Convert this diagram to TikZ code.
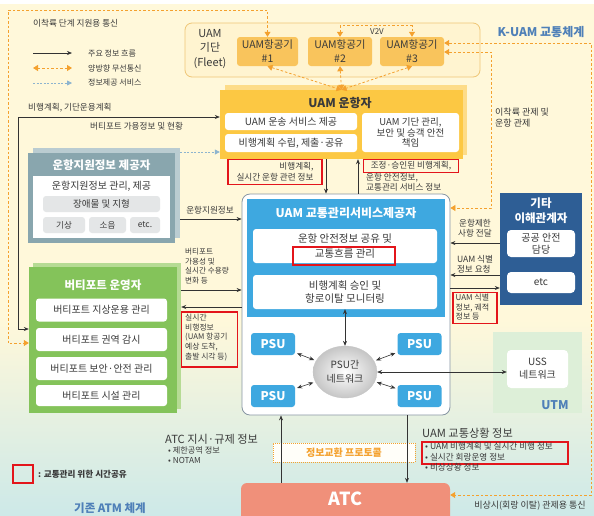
\documentclass[tikz,border=0pt]{standalone}
\usepackage{fontspec}
\setmainfont{Noto Sans CJK KR}
\usetikzlibrary{arrows.meta,shapes.geometric,calc}
\definecolor{bgc}{HTML}{FFF8DA}
\definecolor{bgb}{HTML}{CDE9E8}
\definecolor{orc}{HTML}{F4A12E}
\definecolor{fleetb}{HTML}{EFC676}
\definecolor{fleetf}{HTML}{FFF4D0}
\definecolor{fleetc}{HTML}{F9C45C}
\definecolor{opc}{HTML}{FCC843}
\definecolor{opsh}{HTML}{FDDC88}
\definecolor{provc}{HTML}{89A6AE}
\definecolor{provsh}{HTML}{BACCD1}
\definecolor{grayb}{HTML}{E4E6E7}
\definecolor{vertc}{HTML}{84C35A}
\definecolor{vertsh}{HTML}{B6DB94}
\definecolor{bluec}{HTML}{3EA8E0}
\definecolor{navyc}{HTML}{2E5E95}
\definecolor{utmc}{HTML}{DDEFD8}
\definecolor{atcc}{HTML}{F0907A}
\definecolor{redc}{HTML}{E3151B}
\definecolor{txt}{HTML}{3A3A3A}
\definecolor{kuam}{HTML}{4F80B8}
\definecolor{lblue}{HTML}{8DB4CF}
\definecolor{tmb}{HTML}{8796A3}
\newcommand\myfs[2]{\fontsize{#1}{#2}\selectfont}
\begin{document}
\begin{tikzpicture}[x=1pt,y=-1pt,
  every node/.style={inner sep=0pt, text=txt, align=center},
  blk/.style={draw=black!80, line width=0.6pt, -{Stealth[length=5pt,width=4pt]}},
  blkb/.style={draw=black!80, line width=0.6pt, {Stealth[length=5pt,width=4pt]}-{Stealth[length=5pt,width=4pt]}},
  orng/.style={draw=orc, line width=0.8pt, dash pattern=on 2.5pt off 2pt, {Triangle[length=5pt,width=6pt]}-{Triangle[length=5pt,width=6pt]}},
  bdash/.style={draw=lblue, line width=0.8pt, dash pattern=on 2pt off 1.5pt, -{Triangle[length=5pt,width=5pt]}},
  lbl/.style={font=\myfs{8.6}{10}, align=left},
  redbox/.style={draw=redc, line width=1.8pt},
  wbox/.style={fill=white, rounded corners=3pt, font=\myfs{10}{11.5}},
  gbox/.style={fill=grayb, rounded corners=3pt, font=\myfs{9.5}{11}},
  acbox/.style={fill=fleetc, rounded corners=3pt, minimum width=61pt, minimum height=29pt, font=\myfs{10.5}{14}},
  psu/.style={fill=bluec, rounded corners=3pt, minimum width=44pt, minimum height=22pt, font=\bfseries\myfs{12}{12}, text=white},
  ttl/.style={font=\bfseries\myfs{12}{14}, text=white}
]
\useasboundingbox (0,0) rectangle (594,515);
\fill[white] (0,0) rectangle (594,515);
\fill[bgc] (0,4) rectangle (594,320);
\shade[top color=bgc,bottom color=bgb] (0,320) rectangle (594,515);

% legend
\node[lbl, anchor=west] (legt) at (33,23) {이착륙 단계 지원용 통신};
\coordinate (l1a) at (33,53); \coordinate (l1b) at (72,53);
\coordinate (l2a) at (33,68); \coordinate (l2b) at (72,68);
\coordinate (l3a) at (33,83); \coordinate (l3b) at (72,83);
\draw[blk] (l1a) -- (l1b);
\draw[orng] (l2a) -- (l2b);
\draw[bdash] (l3a) -- (l3b);
\node[lbl, anchor=west, font=\myfs{8}{9}] (lt1) at (88,53) {주요 정보 흐름};
\node[lbl, anchor=west, font=\myfs{8}{9}] (lt2) at (88,68) {양방향 무선통신};
\node[lbl, anchor=west, font=\myfs{8}{9}] (lt3) at (88,83) {정보제공 서비스};

\node[font=\bfseries\myfs{12}{14}, text=kuam] (kuam) at (541,32) {K-UAM 교통체계};

% fleet
\node[draw=fleetb, fill=fleetf, rounded corners=7pt, line width=0.8pt, minimum width=295pt, minimum height=54pt] (fleet) at (332.5,50) {};
\node[font=\myfs{11}{14.5}] (fleetl) at (210,49) {UAM\\기단\\(Fleet)};
\node[acbox] (a1) at (267.5,51.5) {UAM항공기\\\#1};
\node[acbox, minimum width=64pt] (a2) at (340,51.5) {UAM항공기\\\#2};
\node[acbox, minimum width=64pt] (a3) at (412,51.5) {UAM항공기\\\#3};
\draw[orng] (a2.north) -- ++(0,-11) -| (a3.north);
\node[font=\myfs{8}{9}] (v2v) at (377,32) {V2V};

% operator
\node[fill=opsh, minimum width=242pt, minimum height=70pt] (opshd) at (346,120) {};
\node[fill=opc, minimum width=243pt, minimum height=69pt] (op) at (341.5,124.5) {};
\node[font=\bfseries\myfs{12}{14}] (optl) at (340,103) {UAM 운항자};
\node[wbox, minimum width=132pt, minimum height=17pt] (op1) at (291,121.5) {UAM 운송 서비스 제공};
\node[wbox, minimum width=132pt, minimum height=18pt] (op2) at (291,143) {비행계획 수립, 제출·공유};
\node[wbox, minimum width=97pt, minimum height=39pt, font=\myfs{9.5}{10.8}] (op3) at (410.5,132.5) {UAM 기단 관리,\\보안 및 승객 안전\\책임};

\draw[orng] (a1.south) -- (op.north);
\draw[orng] (a2.south) -- (op.north);
\draw[orng] (a3.south) -- (op.north);

% provider
\node[fill=provsh, minimum width=147pt, minimum height=90pt] (provs) at (106.5,193) {};
\node[fill=provc, minimum width=147pt, minimum height=90pt] (prov) at (101.5,198) {};
\node[ttl, font=\bfseries\myfs{11.5}{13}] (provt) at (101.5,165) {운항지원정보 제공자};
\node[fill=white, minimum width=137pt, minimum height=62pt] (provin) at (101.5,207) {};
\node[font=\myfs{10}{12}] (prov1) at (101.5,186) {운항지원정보 관리, 제공};
\node[gbox, minimum width=117pt, minimum height=16pt] (prov2) at (101.5,204) {장애물 및 지형};
\node[gbox, minimum width=42pt, minimum height=16pt, font=\myfs{8.5}{10}] (prov3) at (64,225) {기상};
\node[gbox, minimum width=37pt, minimum height=16pt, font=\myfs{8.5}{10}] (prov4) at (107.5,225) {소음};
\node[gbox, minimum width=30pt, minimum height=16pt, font=\myfs{8.5}{10}] (prov5) at (145,225) {etc.};

% vertiport
\node[fill=vertsh, minimum width=148pt, minimum height=146pt] (verts) at (107,336) {};
\node[fill=vertc, minimum width=148pt, minimum height=146pt] (vert) at (103,340) {};
\node[ttl, font=\bfseries\myfs{11.5}{13}] (vertt) at (103,285) {버티포트 운영자};
\node[wbox, minimum width=131pt, minimum height=23pt] (vt1) at (101.5,310) {버티포트 지상운용 관리};
\node[wbox, minimum width=131pt, minimum height=23pt] (vt2) at (101.5,339.5) {버티포트 권역 감시};
\node[wbox, minimum width=131pt, minimum height=23pt] (vt3) at (101.5,368.5) {버티포트 보안·안전 관리};
\node[wbox, minimum width=131pt, minimum height=21pt] (vt4) at (101.5,395.5) {버티포트 시설 관리};

% operator <-> vertiport
\coordinate (c1) at (18,117);
\coordinate (c2) at (18,329);
\draw[blkb] (vert.west |- c2) -- (c2) -- (c1) -- (op.west |- c1);
\node[lbl, anchor=west] (t1) at (28,108) {비행계획, 기단운용계획};
\node[lbl, anchor=west] (t2) at (90,126) {버티포트 가용정보 및 현황};
\coordinate (c3) at (180,152);
\draw[bdash] (c3) -- (op.west |- c3);

% TMSP
\node[draw=tmb, fill=white, rounded corners=8pt, line width=0.8pt, minimum width=208pt, minimum height=221pt] (tm) at (346,304.5) {};
\node[fill=bluec, minimum width=198pt, minimum height=118pt] (tmb) at (346,258) {};
\node[ttl] (tmt) at (346,213) {UAM 교통관리서비스제공자};
\node[wbox, minimum width=184pt, minimum height=34pt, font=\myfs{10.5}{15.5}] (b1) at (345,246) {운항 안전정보 공유 및\\교통흐름 관리};
\node[redbox, minimum width=102pt, minimum height=18pt] (rb3) at (344,256) {};
\node[wbox, minimum width=184pt, minimum height=34pt, font=\myfs{10.5}{12.5}] (b2) at (345,292) {비행계획 승인 및\\항로이탈 모니터링};

\node[psu] (p1) at (273,344) {PSU};
\node[psu] (p2) at (419.5,344) {PSU};
\node[psu] (p3) at (273,396) {PSU};
\node[psu] (p4) at (419.5,396) {PSU};
\node[ellipse, minimum width=64pt, minimum height=52pt, inner color=white, outer color=gray!45, draw=gray!45, line width=0.3pt, font=\myfs{10}{14}] (net) at (345,372) {PSU간\\네트워크};
\draw[blkb] (b2.south) -- (net.north);
\foreach \p in {p1,p2,p3,p4} \draw[blkb, shorten <=2pt, shorten >=2pt] (\p) -- (net);

% operator <-> TMSP
\coordinate (x1) at (326,0);
\coordinate (x2) at (358,0);
\draw[blk] (op.south -| x1) -- (tm.north -| x1);
\draw[blk] (tm.north -| x2) -- (op.south -| x2);
\node[redbox, minimum width=94pt, minimum height=25pt, align=right, font=\myfs{8.6}{10.5}] (rb1) at (275,172) {비행계획,\\실시간 운항 관련 정보};
\node[redbox, minimum width=95pt, minimum height=13pt, font=\myfs{8.6}{9}] (rb2) at (411,166) {조정·승인된 비행계획,};
\node[lbl, anchor=north west] (t3) at (366,173) {운항 안전정보,\\교통관리 서비스 정보};

% provider -> TMSP
\coordinate (c4) at (0,219);
\draw[blk] (provs.east |- c4) -- (tm.west |- c4);
\node[lbl] (t4) at (210,210) {운항지원정보};

% vertiport <-> TMSP
\coordinate (c5) at (0,290);
\coordinate (c6) at (0,307);
\draw[blk] (verts.east |- c5) -- (tm.west |- c5);
\draw[blk] (tm.west |- c6) -- (verts.east |- c6);
\node[lbl, anchor=north west, font=\myfs{7.6}{9.6}] (t5) at (185,248) {버티포트\\가용성 및\\실시간 수용량\\변화 등};
\node[redbox, minimum width=56pt, minimum height=55pt] (rb4) at (209.5,339.5) {};
\node[lbl, anchor=north west, font=\myfs{7.8}{9.6}] (t6) at (185,314) {실시간\\비행정보\\(UAM 항공기\\예상 도착,\\출발 시각 등)};

% other stakeholders
\node[fill=navyc, minimum width=82pt, minimum height=112pt] (oth) at (541,249) {};
\node[ttl, font=\bfseries\myfs{11.5}{15}] (otht) at (541,211) {기타\\이해관계자};
\node[wbox, minimum width=68pt, minimum height=27pt, rounded corners=4pt, font=\myfs{10}{12}] (oth1) at (541,243.5) {공공 안전\\담당};
\node[wbox, minimum width=68pt, minimum height=21pt, rounded corners=4pt] (oth2) at (541,282.5) {etc};
\coordinate (c7) at (0,243);
\coordinate (c8) at (0,275);
\coordinate (c9) at (0,288);
\draw[blk] (oth.west |- c7) -- (tm.east |- c7);
\draw[blk] (oth.west |- c8) -- (tm.east |- c8);
\draw[blk] (tm.east |- c9) -- (oth.west |- c9);
\node[lbl, align=center] (t7) at (475,228) {운항제한\\사항 전달};
\node[lbl] (t8) at (475,264) {UAM 식별\\정보 요청};
\node[redbox, minimum width=44pt, minimum height=31pt] (rb5) at (475,308) {};
\node[lbl, anchor=north west, font=\myfs{8}{9.5}] (t9) at (455.5,294) {UAM 식별\\정보, 궤적\\정보 등};

% UTM
\node[fill=utmc, minimum width=89pt, minimum height=81pt] (utm) at (537.5,372.5) {};
\node[fill=white, rounded corners=4pt, minimum width=61pt, minimum height=38pt, font=\myfs{10}{13}] (uss) at (537.5,369) {USS\\네트워크};
\node[font=\bfseries\myfs{12}{14}, text=kuam] (utmt) at (555,405) {UTM};
\draw[blkb] (net.east) -- (uss.west |- net.east);

% fleet <-> vertiport (landing phase)
\coordinate (d1) at (8,10);
\coordinate (d2) at (8,343);
\draw[orng] (a1.north) -- (a1.north |- d1) -- (d1) -- (d2) -- (vert.west |- d2);

% ATC
\node[fill=atcc, rounded corners=6pt, minimum width=209pt, minimum height=40pt] (atc) at (345.5,503) {};
\node[font=\bfseries\myfs{18}{20}, text=white] (atct) at (345.5,499) {ATC};

\node[draw=orc, dash pattern=on 1pt off 1pt, line width=0.8pt, fill=white!85!bgc, minimum width=142pt, minimum height=19pt, font=\bfseries\myfs{10}{12}, text=orc] (prot) at (344,452.5) {정보교환 프로토콜};

\coordinate (x3) at (281,0);
\coordinate (x4) at (407,0);
\draw[blk] (atc.north -| x3) -- (tm.south -| x3);
\draw[blk] (tm.south -| x4) -- (atc.north -| x4);

\coordinate (d3) at (591,43);
\coordinate (d4) at (591,495);
\draw[orng] (a3.east |- d3) -- (d3) -- (d4) -- (atc.east |- d4);
\coordinate (d5) at (491,52);
\coordinate (d6) at (491,208);
\draw[orng] (a3.east |- d5) -- (d5) -- (d6) -- (tm.east |- d6);
\node[lbl, anchor=north west, font=\myfs{9}{10.5}] (t10) at (495,108) {이착륙 관제 및\\운항 관제};

\node[lbl, anchor=west, font=\myfs{11.2}{12}] (t11) at (165,439) {ATC 지시·규제 정보};
\node[lbl, anchor=north west, font=\myfs{8.2}{9.5}] (t12) at (168,447) {•\ 제한공역 정보\\•\ NOTAM};

\node[lbl, anchor=west, font=\myfs{11.2}{12}] (t13) at (422,433) {UAM 교통상황 정보};
\node[redbox, minimum width=146pt, minimum height=22pt] (rb6) at (495,453) {};
\node[lbl, anchor=north west, font=\myfs{8.6}{10.5}] (t14) at (425,442.5) {•\ UAM 비행계획 및 실시간 비행 정보\\•\ 실시간 회랑운영 정보\\•\ 비상상황 정보};

\node[lbl, font=\myfs{9}{10}] (t15) at (530,506) {비상시(회랑 이탈) 관제용 통신};

% legend bottom
\node[redbox, minimum width=20pt, minimum height=18pt] (legr) at (23,474) {};
\node[lbl, anchor=west, font=\bfseries\myfs{8.6}{10}] (t16) at (38,474) {: 교통관리 위한 시간공유};
\node[font=\bfseries\myfs{11.5}{13}, text=kuam] (t17) at (110,508) {기존 ATM 체계};
\end{tikzpicture}
\end{document}
